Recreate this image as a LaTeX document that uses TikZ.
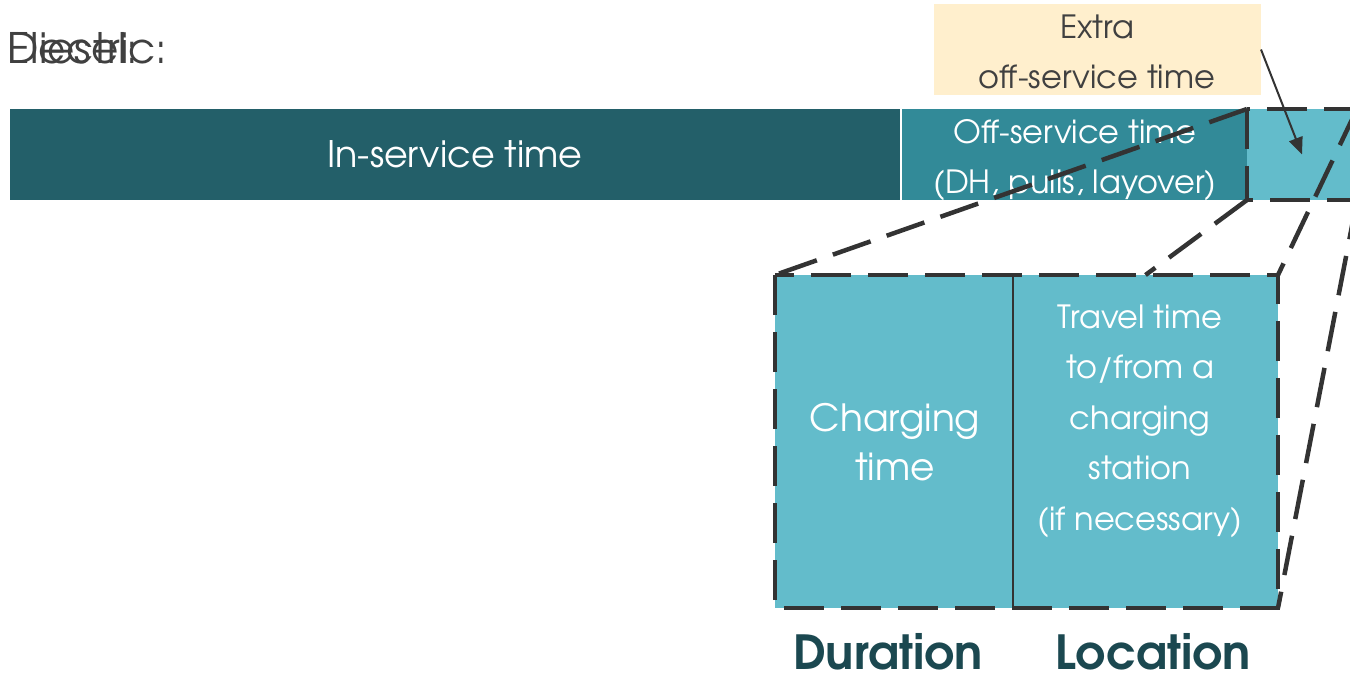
\documentclass[tikz,border=0pt]{standalone}
\usepackage{fontspec}
\setmainfont{texgyreadventor-regular.otf}[BoldFont=texgyreadventor-bold.otf]
\usetikzlibrary{arrows.meta}
\definecolor{dteal}{HTML}{235F69}
\definecolor{mteal}{HTML}{328A98}
\definecolor{lteal}{HTML}{63BCCB}
\definecolor{notefill}{HTML}{FFEFCD}
\definecolor{txt}{HTML}{404040}
\definecolor{lbl}{HTML}{1B4850}
\definecolor{dashc}{HTML}{333333}
\begin{document}
\begin{tikzpicture}[x=1pt,y=-1pt,
 blk/.style={inner sep=0pt, outer sep=0pt, anchor=north west, text=white, align=center},
 dashline/.style={draw=dashc, line width=4.5pt, dash pattern=on 40pt off 17pt},
 tx/.style={inner sep=0pt, outer sep=0pt, align=center, text=white},
]
\useasboundingbox (0,0) rectangle (1350,674);
\clip (0,0) rectangle (1350,674);
% header
\node[tx, text=txt, anchor=base west, font=\fontsize{42}{48}\selectfont] (diesel) at (8,64) {Diesel:};
\node[tx, text=txt, anchor=base west, font=\fontsize{42}{48}\selectfont] (electric) at (8,64) {Electric:};
% bar
\node[blk, fill=dteal, minimum width=890pt, minimum height=91pt, font=\fontsize{36.5}{40}\selectfont] (ins) at (10,109) {In-service time};
\node[blk, fill=mteal, minimum width=345pt, minimum height=91pt] (off) at (902,109) {};
\node[tx, font=\fontsize{32}{50}\selectfont] (offt) at (1075,160) {Off-service time\\(DH, pulls, layover)};
\node[blk, fill=lteal, minimum width=110pt, minimum height=91pt] (ext) at (1247,109) {};
% note
\node[blk, fill=notefill, minimum width=327pt, minimum height=91pt] (note) at (934,4) {};
\node[tx, text=txt, font=\fontsize{32}{50}\selectfont] (notet) at (1097,52) {Extra\\off-service time};
% big box
\node[blk, fill=lteal, minimum width=238pt, minimum height=333pt] (chg) at (775,275) {};
\node[blk, fill=lteal, minimum width=265pt, minimum height=333pt] (trv) at (1013,275) {};
\node[tx, font=\fontsize{37.5}{49}\selectfont] (chgt) at (895,442) {Charging\\time};
\node[tx, font=\fontsize{32}{50.5}\selectfont] (trvt) at (1140,421) {Travel time\\to/from a\\charging\\station\\(if necessary)};
\draw[draw=dashc, line width=1.5pt] (chg.north east) -- (chg.south east);
\draw[dashline] (chg.north west) rectangle (trv.south east);
\draw[dashline] (ext.north west) rectangle (ext.south east);
% connectors
\draw[dashline] (ext.north west) -- (chg.north west);
\draw[dashline] (ext.south west) -- (trv.north);
\draw[dashline] (ext.north east) -- (trv.north east);
\draw[dashline] (ext.south east) -- (trv.south east);
% arrow
\draw[draw=dashc, line width=2pt, -{Triangle[length=17pt,width=14pt]}] (note.east) -- (ext.center);
% labels
\node[tx, text=lbl, anchor=base, font=\fontsize{47}{50}\selectfont\bfseries] (dur) at (888,669) {Duration};
\node[tx, text=lbl, anchor=base, font=\fontsize{47}{50}\selectfont\bfseries] (loc) at (1153,669) {Location};
\end{tikzpicture}
\end{document}
